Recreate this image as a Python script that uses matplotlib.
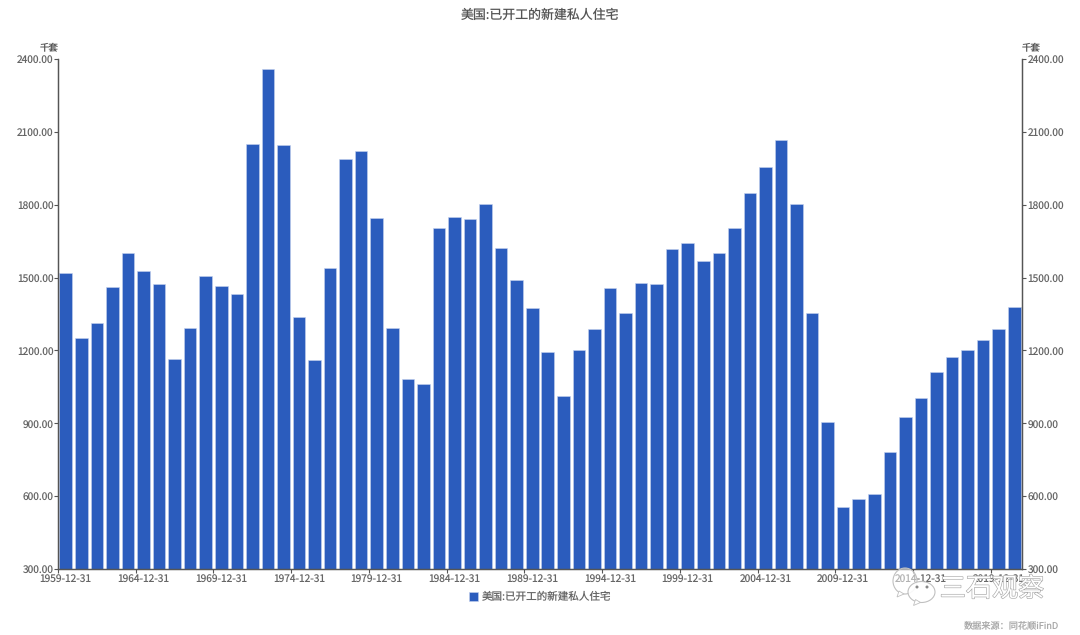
#!/usr/bin/env python3
"""US housing starts bar chart, annual, with the same scale on both sides."""

import matplotlib

matplotlib.use("Agg")

import matplotlib.patheffects as pe
import matplotlib.pyplot as plt
from matplotlib.patches import Ellipse, Polygon

W, H = 1080, 635

years = list(range(1959, 2021))
starts = [
    1517, 1252, 1313, 1463, 1603, 1529, 1473, 1165, 1292, 1508, 1467, 1434,
    2052, 2357, 2045, 1338, 1160, 1538, 1987, 2020, 1745, 1292, 1084, 1062,
    1703, 1750, 1742, 1805, 1621, 1488, 1376, 1193, 1014, 1200, 1288, 1457,
    1354, 1477, 1474, 1617, 1641, 1569, 1603, 1705, 1848, 1956, 2068, 1801,
    1355, 906, 554, 587, 609, 781, 925, 1003, 1112, 1174, 1203, 1243, 1290,
    1380,
]
y_ticks = [300, 600, 900, 1200, 1500, 1800, 2100, 2400]
title = "美国:已开工的新建私人住宅"
unit = "千套"
source = "数据来源：同花顺iFinD"
watermark = "三石观察"

BAR = "#2b5cbd"
AXIS = "#555555"
TEXT = "#666666"
TICK_SIZE = 7.3

plt.rcParams["font.family"] = ["Noto Sans CJK SC", "DejaVu Sans"]
plt.rcParams["text.hinting"] = "no_hinting"
plt.rcParams["text.hinting_factor"] = 1


def fx(x):
    return x / W


def fy(y):
    return 1 - y / H


fig = plt.figure(figsize=(W / 100, H / 100), dpi=100, facecolor="white")
ax = fig.add_axes([fx(58), fy(569), (1022 - 58) / W, (569 - 59) / H])

positions = list(range(len(years)))
ax.bar(positions, starts, width=0.81, color=BAR, edgecolor="#c5d2ee", linewidth=0.4,
       label=title)
ax.set_xlim(-0.5, len(years) - 0.5)
ax.set_ylim(300, 2400)

ax.set_yticks(y_ticks)
ax.set_yticklabels([f"{v:.2f}" for v in y_ticks])

# ticks sit on the bar boundaries, labels under the bar centres
label_pos = positions[::5]
ax.set_xticks([p - 0.5 for p in label_pos])
ax.set_xticklabels([])
ax.set_xticks(label_pos, minor=True)
ax.set_xticklabels([f"{years[p]}-12-31" for p in label_pos], minor=True)
ax.tick_params(axis="x", which="minor", length=0, pad=3, labelsize=TICK_SIZE, labelcolor=TEXT)
ax.tick_params(axis="x", which="major", length=3, width=0.8, color=AXIS)
ax.tick_params(axis="y", length=3, width=0.8, color=AXIS, pad=0, labelsize=TICK_SIZE,
               labelcolor=TEXT)

right = ax.twinx()
right.set_ylim(300, 2400)
right.set_yticks(y_ticks)
right.set_yticklabels([f"{v:.2f}" for v in y_ticks])
right.tick_params(axis="y", length=3, width=0.8, color=AXIS, pad=1, labelsize=TICK_SIZE,
                  labelcolor=TEXT)

for a in (ax, right):
    a.spines["top"].set_visible(False)
    for side in ("left", "right", "bottom"):
        a.spines[side].set_color(AXIS)
        a.spines[side].set_linewidth(0.9)

fig.text(fx(540), fy(15), title, ha="center", va="center", fontsize=9.3, color="#555555")
fig.text(fx(49), fy(48), unit, ha="center", va="center", fontsize=6.8, color="#555555")
fig.text(fx(1031), fy(48), unit, ha="center", va="center", fontsize=6.8, color="#555555")

ax.legend(loc="center", bbox_to_anchor=(0.5, (569 - 597) / (569 - 59)), frameon=False,
          fontsize=7.6, labelcolor=TEXT, handlelength=0.9, handleheight=0.9,
          handletextpad=0.35, borderpad=0, borderaxespad=0)

fig.text(fx(1059), fy(626), source, ha="right", va="center", fontsize=6.6, color="#aaaaaa")

# watermark sits over the last axis labels, the labels still show through a bit
for cx, cy, bw, bh, face in ((905, 581, 24, 26, (1, 1, 1, 0.5)), (921.5, 592, 27, 21, (1, 1, 1, 0.9))):
    fig.add_artist(Ellipse((fx(cx), fy(cy)), bw / W, bh / H, transform=fig.transFigure,
                           facecolor=face, edgecolor="#c0c0c0", linewidth=0.8, zorder=10))
    fig.add_artist(Polygon([(fx(cx - 6), fy(cy + bh / 2 - 3)),
                            (fx(cx - 8), fy(cy + bh / 2 + 3)),
                            (fx(cx - 1), fy(cy + bh / 2))],
                           transform=fig.transFigure, facecolor="white",
                           edgecolor="#c0c0c0", linewidth=0.6, zorder=10))
for ex in (917, 927):
    fig.add_artist(Ellipse((fx(ex), fy(587)), 3 / W, 3 / H, transform=fig.transFigure,
                           facecolor="#888888", edgecolor="none", zorder=11))
fig.text(fx(992), fy(589), watermark, ha="center", va="center", fontsize=18.8,
         color="white", zorder=11,
         path_effects=[pe.withStroke(linewidth=0.9, foreground="#a8a8a8")])

fig.savefig("out.png", dpi=100, facecolor="white")
